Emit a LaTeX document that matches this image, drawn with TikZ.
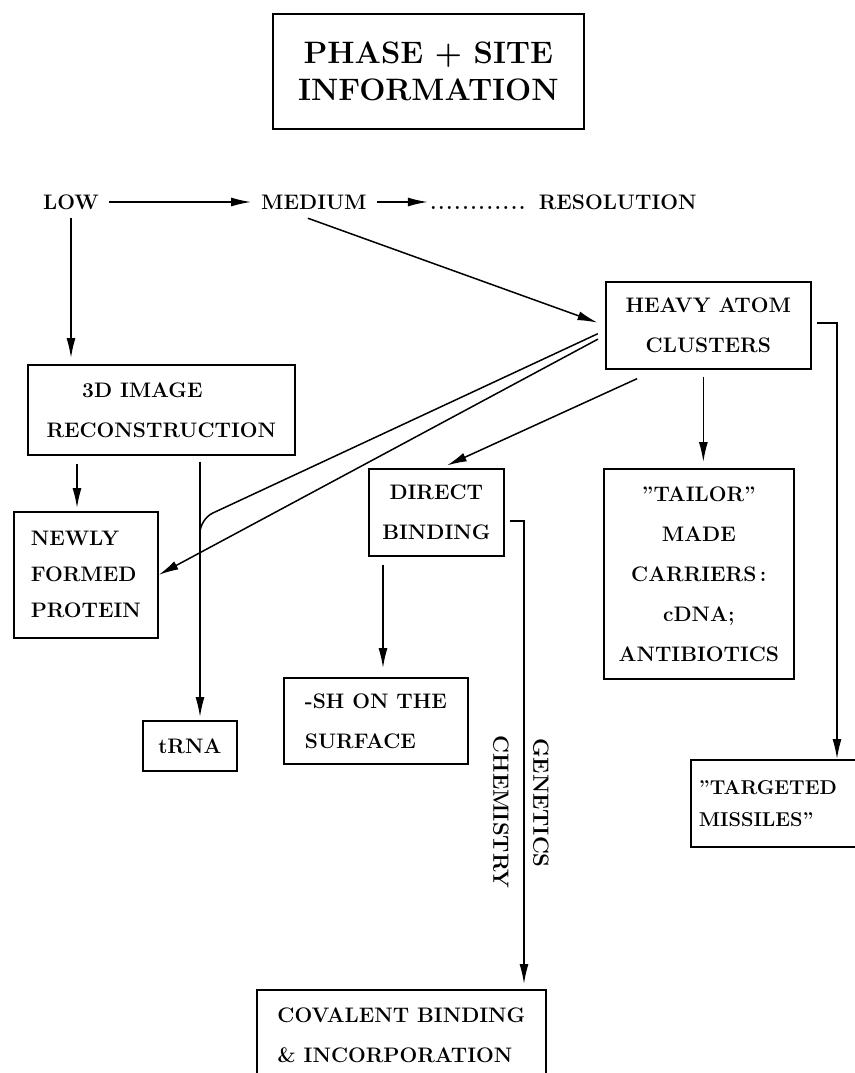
\documentclass[tikz,border=0pt]{standalone}
\usepackage{tikz}
\usetikzlibrary{arrows.meta,positioning}

\begin{document}
\begin{tikzpicture}[
        x=1pt, y=-1pt,
        font=\fontsize{21}{40}\selectfont\bfseries,
        lbl/.style={inner xsep=10pt, inner ysep=8pt},
        side/.style={rotate=-90, font=\fontsize{22}{40}\selectfont\bfseries},
        box/.style={draw, line width=1.7pt, align=center, inner sep=0pt,
                    anchor=north west},
        arr/.style={-{Latex[length=20pt,width=9pt]}, line width=1.5pt},
        line/.style={line width=1.5pt}
    ]
        \useasboundingbox[fill=white] (0,0) rectangle (854,1073);

        \node[box, minimum width=311pt, minimum height=115pt,
              font=\fontsize{31}{37}\selectfont\bfseries] (title) at (272,13)
            {PHASE + SITE\\INFORMATION};

        \node[lbl] (low) at (71,202) {LOW};
        \node[lbl, right=142pt of low] (medium) {MEDIUM};
        \node[inner xsep=2pt, right=51pt of medium] (dots)
            {\vphantom{L}.\hspace{1.5pt}.\hspace{1.5pt}.\hspace{1.5pt}.\hspace{1.5pt}%
             .\hspace{1.5pt}.\hspace{1.5pt}.\hspace{1.5pt}.\hspace{1.5pt}%
             .\hspace{1.5pt}.\hspace{1.5pt}.\hspace{1.5pt}.};
        \node[lbl, right=1pt of dots] (resol) {RESOLUTION};

        \node[box, minimum width=267pt, minimum height=90pt] (img) at (27,364)
            {3D IMAGE\hspace*{38pt}\\RECONSTRUCTION};
        \node[box, minimum width=205pt, minimum height=87pt] (heavy) at (605,281)
            {HEAVY ATOM\\CLUSTERS};
        \node[box, minimum width=144pt, minimum height=126pt, align=left] (newly) at (13,511)
            {NEWLY\\[-4pt]FORMED\\[-4pt]PROTEIN};
        \node[box, minimum width=135pt, minimum height=87pt] (direct) at (368,468)
            {DIRECT\\BINDING};
        \node[box, minimum width=190pt, minimum height=210pt] (tailor) at (603,468)
            {"TAILOR"\\MADE\\CARRIERS\,:\\cDNA;\\ANTIBIOTICS};
        \node[box, minimum width=184pt, minimum height=86pt, align=left] (sh) at (283,677)
            {-SH ON THE\\SURFACE};
        \node[box, minimum width=94pt, minimum height=50pt] (trna) at (142,720) {tRNA};
        \node[box, minimum width=200pt, minimum height=87pt, text width=184pt,
              align=left, font=\fontsize{20}{40}\selectfont\bfseries] (target) at (690,759)
            {"TARGETED\\[-8pt]MISSILES"};
        \node[box, minimum width=289pt, minimum height=90pt, align=left] (cov) at (256,989)
            {COVALENT BINDING\\\& INCORPORATION};

        \node[side] (chem) at (501,812) {CHEMISTRY};
        \node[side] (gen) at (541,803) {GENETICS};

        \coordinate (merge) at (200,519);
        \coordinate (tgx) at (837,0);
        \coordinate (cvx) at (524,0);

        \draw[arr] (low) -- (medium);
        \draw[arr] (medium) -- (dots);
        \draw[arr, shorten >=6pt] (low.south) -- (low.south |- img.north);
        \draw[arr, shorten <=2pt, shorten >=8pt] ([xshift=-8pt]medium.south) -- (heavy.west);
        \draw[arr, shorten <=8pt] ([yshift=-10pt]heavy.west) -- (newly.east);
        \draw[line, rounded corners=14pt, shorten <=8pt] ([yshift=-5pt]heavy.west)
            -- (merge) -- ++(0,45);
        \draw[arr, shorten <=6pt, shorten >=3pt] (img.south -| merge) -- (trna.north -| merge);
        \draw[arr, shorten <=8pt, shorten >=3pt] ([xshift=50pt]img.south west)
            -- ([xshift=50pt]img.south west |- newly.north);
        \draw[arr, shorten >=6pt] ([xshift=32pt,yshift=-9pt]heavy.south west)
            -- ([xshift=5pt]direct.north);
        \draw[arr, shorten <=7pt, shorten >=6pt] ([xshift=-5pt]heavy.south)
            -- ([xshift=-5pt]heavy.south |- tailor.north);
        \draw[arr, shorten <=5pt] ([yshift=2.5pt]heavy.east) -| (tgx |- target.north);
        \draw[arr, shorten <=8pt, shorten >=9pt] ([xshift=15pt]direct.south west)
            -- ([xshift=15pt]direct.south west |- sh.north);
        \draw[arr, shorten <=5pt, shorten >=5pt] ([yshift=-8.5pt]direct.east)
            -| (cvx |- cov.north);
    \end{tikzpicture}
\end{document}
